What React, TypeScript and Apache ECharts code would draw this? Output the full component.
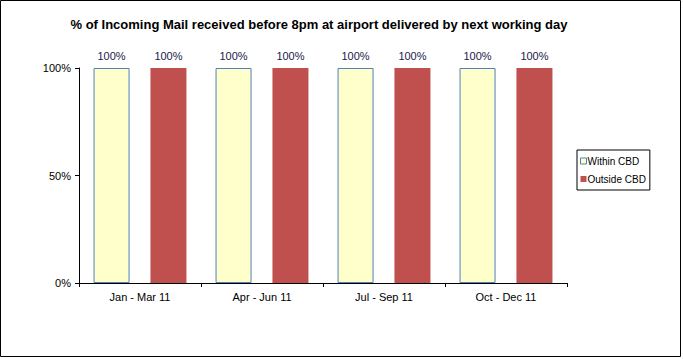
import React, { useEffect, useRef } from "react";
import * as echarts from "echarts";

const categories = ["Jan - Mar 11", "Apr - Jun 11", "Jul - Sep 11", "Oct - Dec 11"];
const withinCBD = [100, 100, 100, 100];
const outsideCBD = [100, 100, 100, 100];
const yTicks = [0, 50, 100];

export default function App() {
  const ref = useRef<HTMLDivElement>(null);
  useEffect(() => {
    document.body.style.margin = "0";
    const chart = echarts.init(ref.current!, null, { renderer: "svg" });
    const font = "Arial, 'Liberation Sans', sans-serif";
    chart.setOption({
      animation: false,
      backgroundColor: "#ffffff",
      title: {
        text: "% of Incoming Mail received before 8pm at airport delivered by next working day",
        left: 314,
        textAlign: "center",
        top: 13,
        textStyle: { fontFamily: font, fontSize: 13, fontWeight: "bold", color: "#000" },
      },
      legend: {
        orient: "vertical",
        left: 577,
        top: 150,
        width: 76,
        padding: [6, 4, 6, 3],
        itemWidth: 6,
        itemHeight: 6,
        itemGap: 8,
        borderColor: "#000",
        borderWidth: 1,
        textStyle: { fontFamily: font, fontSize: 10, color: "#000", padding: [0, 0, 0, -4] },
        data: [
          { name: "Within CBD", icon: "rect", itemStyle: { borderWidth: 1, borderColor: "#4F81BD" } },
          { name: "Outside CBD", icon: "rect" },
        ],
      },
      grid: { left: 79, right: 116, top: 68, bottom: 76, containLabel: false },
      xAxis: {
        type: "category",
        data: categories,
        axisLine: { lineStyle: { color: "#000", width: 1 } },
        axisTick: { show: true, length: 4, lineStyle: { color: "#000" } },
        axisLabel: { fontFamily: font, fontSize: 11, color: "#000", margin: 8 },
      },
      yAxis: {
        type: "value",
        min: 0,
        max: 100,
        interval: 50,
        splitLine: { show: false },
        axisLine: { show: true, lineStyle: { color: "#000", width: 1 } },
        axisTick: { show: true, length: 4, lineStyle: { color: "#000" } },
        axisLabel: {
          fontFamily: font,
          fontSize: 11,
          color: "#000",
          margin: 8,
          formatter: (v: number) => (yTicks.includes(v) ? v + "%" : ""),
        },
      },
      series: [
        {
          name: "Within CBD",
          type: "bar",
          data: withinCBD,
          barWidth: 36,
          barGap: "58%",
          itemStyle: { color: "#FFFFCC", borderColor: "#4F81BD", borderWidth: 1 },
          label: {
            show: true,
            position: "top",
            distance: 7,
            formatter: "{c}%",
            fontFamily: font,
            fontSize: 11,
            color: "#1A1A4A",
          },
        },
        {
          name: "Outside CBD",
          type: "bar",
          data: outsideCBD,
          barWidth: 36,
          barGap: "58%",
          itemStyle: { color: "#C0504D" },
          label: {
            show: true,
            position: "top",
            distance: 7,
            formatter: "{c}%",
            fontFamily: font,
            fontSize: 11,
            color: "#1A1A4A",
          },
        },
      ],
      graphic: [
        {
          type: "rect",
          shape: { x: 0.5, y: 0.5, width: 680, height: 356 },
          style: { fill: "none", stroke: "#000", lineWidth: 1 },
          silent: true,
        },
      ],
    });
    return () => chart.dispose();
  }, []);
  return <div ref={ref} style={{ width: 683, height: 359 }} />;
}
